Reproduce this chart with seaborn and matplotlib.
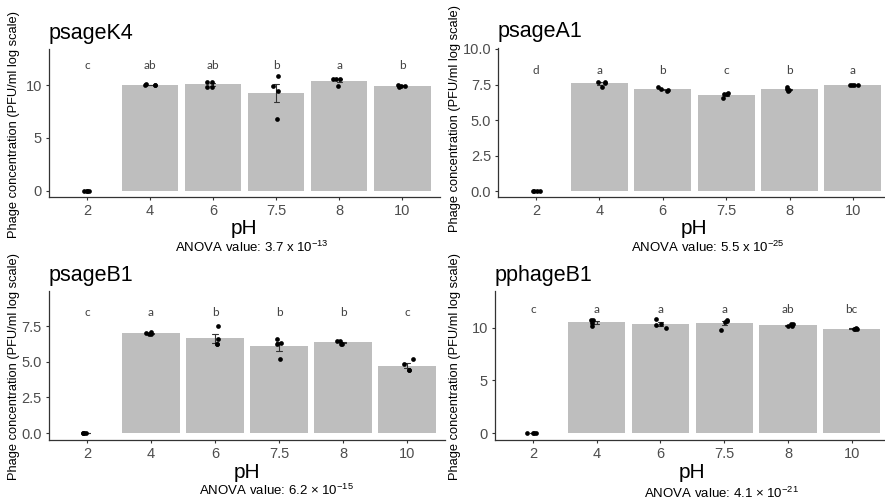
import numpy as np
import pandas as pd
import matplotlib
matplotlib.use("Agg")
import matplotlib.pyplot as plt
import matplotlib.transforms as mtransforms
import seaborn as sns

# ---------------- data ----------------
ph_levels = ["2", "4", "6", "7.5", "8", "10"]

psageK4_reps = [
    [0, 0, 0, 0],
    [10.0, 10.0, 10.02, 10.05],
    [9.8, 9.85, 10.3, 10.3],
    [10.88, 9.93, 9.46, 6.76],
    [10.57, 10.57, 10.6, 9.9],
    [9.85, 9.9, 9.95, 10.0],
]
psageA1_reps = [
    [0, 0, 0, 0],
    [7.65, 7.7, 7.6, 7.35],
    [7.1, 7.05, 7.2, 7.3],
    [6.9, 6.85, 6.8, 6.55],
    [7.05, 7.1, 7.2, 7.3],
    [7.5, 7.45, 7.45, 7.45],
]
psageB1_reps = [
    [0, 0, 0, 0],
    [6.95, 7.0, 7.1, 6.95],
    [7.55, 6.6, 6.25, 6.25],
    [6.6, 6.3, 6.25, 5.2],
    [6.25, 6.25, 6.5, 6.45],
    [5.2, 4.85, 4.45, 4.45],
]
pphageB1_reps = [
    [0, 0, 0, 0],
    [10.7, 10.7, 10.4, 10.15],
    [10.85, 10.3, 10.25, 9.95],
    [10.7, 10.5, 10.6, 9.8],
    [10.3, 10.1, 10.35, 10.1],
    [9.95, 9.85, 9.85, 9.9],
]

titles = ["psageK4", "psageA1", "psageB1", "pphageB1"]
letters_K4 = ["c", "ab", "ab", "b", "a", "b"]
letters_A1 = ["d", "a", "b", "c", "b", "a"]
letters_B1 = ["c", "a", "b", "b", "b", "c"]
letters_pB1 = ["c", "a", "a", "a", "ab", "bc"]
letter_heights = [11.8, 8.5, 8.45, 11.75]
anova_mantissa = ["3.7", "5.5", "6.2", "4.1"]
anova_exponent = ["-13", "-25", "-15", "-21"]
anova_times = ["x", "x", "\u00d7", "\u00d7"]

# ---------------- style ----------------
sns.set_theme(style="ticks")
plt.rcParams["font.family"] = ["Liberation Sans", "DejaVu Sans"]
plt.rcParams["mathtext.fontset"] = "custom"
plt.rcParams["mathtext.rm"] = "Liberation Sans"
plt.rcParams["mathtext.default"] = "regular"

W, H = 885, 503
fig = plt.figure(figsize=(W / 100, H / 100), dpi=100)
fig.patch.set_facecolor("white")

# axes rectangles in pixels: left, top, right, bottom
rects = [
    (49, 49, 440, 197),
    (498, 48, 891, 197),
    (48.6, 291, 445.4, 440),
    (494.7, 291, 890, 440),
]
ylims = [(-0.57, 13.4), (-0.42, 10.07), (-0.49, 9.98), (-0.66, 13.46)]
yticks = [[0, 5, 10], [0, 2.5, 5, 7.5, 10], [0, 2.5, 5, 7.5], [0, 5, 10]]
yticklabels = [["0", "5", "10"], ["0.0", "2.5", "5.0", "7.5", "10.0"],
               ["0.0", "2.5", "5.0", "7.5"], ["0", "5", "10"]]
ylabel_pos = [(14, 124), (455, 119), (14, 367), (455, 366)]
anova_pos = [(252, 247), (708, 247), (276, 490), (721, 493)]

all_reps = [psageK4_reps, psageA1_reps, psageB1_reps, pphageB1_reps]
all_letters = [letters_K4, letters_A1, letters_B1, letters_pB1]

axis_col = "#4D4D4D"
np.random.seed(3)

for k in range(4):
    l, t, r, b = rects[k]
    ax = fig.add_axes([l / W, 1 - b / H, (r - l) / W, (b - t) / H])
    ax.set_facecolor("white")
    reps = all_reps[k]
    df = pd.DataFrame({
        "pH": [ph for ph, vals in zip(ph_levels, reps) for _ in vals],
        "conc": [v for vals in reps for v in vals],
    })
    sns.barplot(data=df, x="pH", y="conc", order=ph_levels, color="#BEBEBE",
                saturation=1, width=0.9, errorbar="se", capsize=0.08,
                err_kws={"color": "#333333", "linewidth": 0.8}, linewidth=0,
                ax=ax, zorder=1)
    sns.stripplot(data=df, x="pH", y="conc", order=ph_levels, color="black",
                  size=3.4, jitter=0.1, linewidth=0, ax=ax, zorder=5)
    for i, let in enumerate(all_letters[k]):
        ax.text(i, letter_heights[k], let, ha="center", va="center",
                fontsize=8.5, color="#404040", family=["Lato", "DejaVu Sans"])
    ax.set_xlim(-0.6, 5.6)
    ax.set_ylim(*ylims[k])
    ax.set_yticks(yticks[k])
    ax.set_yticklabels(yticklabels[k])
    ax.set_xlabel("")
    ax.set_ylabel("")
    for s in ["top", "right"]:
        ax.spines[s].set_visible(False)
    for s in ["left", "bottom"]:
        ax.spines[s].set_color("#333333")
        ax.spines[s].set_linewidth(0.9)
    ax.tick_params(axis="both", labelsize=10.5, labelcolor=axis_col,
                   color="#333333", length=2.5, width=0.8, pad=2.5)
    # title, baseline ~10.5 px above the axes
    ax.text(0, 1.0, titles[k], ha="left", va="baseline", fontsize=15.5,
            color="black",
            transform=ax.transAxes + mtransforms.ScaledTranslation(
                0, 10.5 / 100, fig.dpi_scale_trans))
    # x label
    fig.text((l + r) / 2 / W, 1 - (b + 32) / H, "pH", ha="center", va="center",
             fontsize=15, color="black")
    # y label
    fig.text(ylabel_pos[k][0] / W, 1 - ylabel_pos[k][1] / H,
             "Phage concentration (PFU/ml log scale)", rotation=90,
             ha="center", va="center", fontsize=9.3, color="black")
    # ANOVA
    ax_, ay_ = anova_pos[k]
    fig.text(ax_ / W, 1 - ay_ / H,
             "ANOVA value: " + anova_mantissa[k] + " " + anova_times[k] +
             " 10$^{" + anova_exponent[k] + "}$",
             ha="center", va="center", fontsize=9.5, color="black")

fig.savefig("out.png", dpi=100, facecolor="white")
